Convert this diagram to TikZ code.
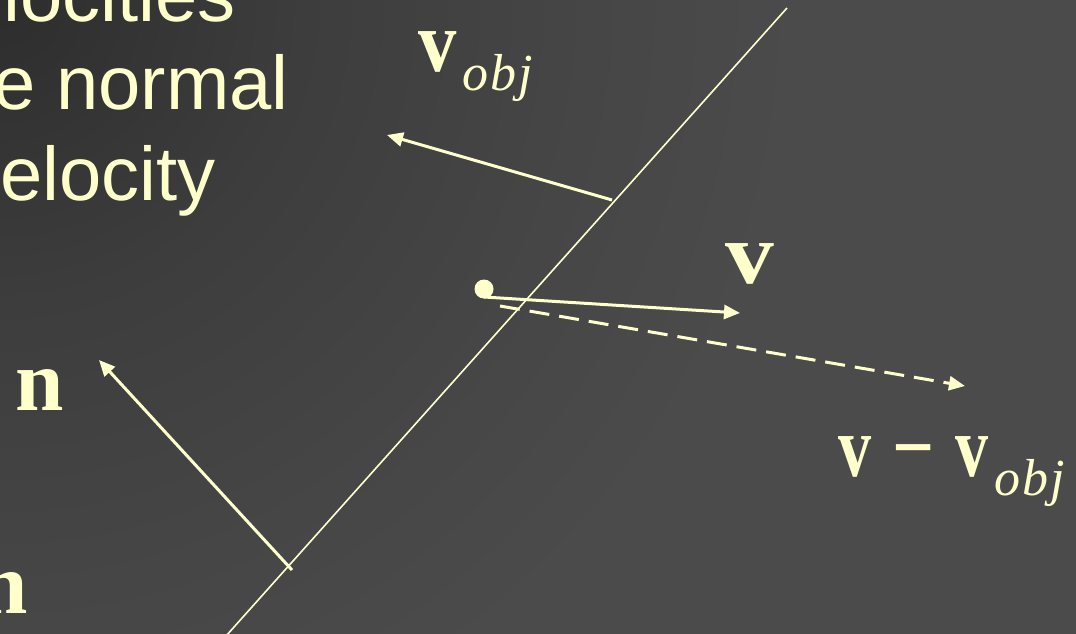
\documentclass[tikz,border=0pt]{standalone}
\usepackage{fontspec}
\setmainfont{Liberation Serif}
\setsansfont{Liberation Sans}
\usetikzlibrary{arrows.meta}
\definecolor{fg}{HTML}{FFFFCC}
\definecolor{bgA}{HTML}{2D2D2D}
\definecolor{bgB}{HTML}{3D3D3D}
\definecolor{bgC}{HTML}{464646}
\definecolor{bgD}{HTML}{4B4B4B}
\pgfdeclareradialshading{bgradial}{\pgfpoint{0bp}{0bp}}{color(0bp)=(bgA); color(9.5bp)=(bgB); color(18.5bp)=(bgC); color(25bp)=(bgD); color(50bp)=(bgD)}
\newcommand{\bodyfont}{\sffamily\fontsize{76}{89}\selectfont}
\newcommand{\vecfont}{\rmfamily\bfseries\fontsize{87}{100}\selectfont}
\newcommand{\subfont}{\rmfamily\mdseries\itshape\fontsize{52}{60}\selectfont}
\begin{document}
\begin{tikzpicture}[x=1pt,y=-1pt,
  bodytext/.style={text=fg, inner sep=0pt, font=\bodyfont, anchor=base east},
  lbl/.style={text=fg, inner sep=0pt, anchor=base west},
  planeline/.style={draw=fg, line width=1.6pt},
  vecarrow/.style={draw=fg, line width=3pt, -{Triangle[length=16pt,width=14pt]}},
  dasharrow/.style={draw=fg, line width=3pt, dash pattern=on 20pt off 10pt, -{Triangle[length=16pt,width=14pt]}},
  dotnode/.style={circle, fill=fg, inner sep=0pt, minimum size=19pt}]
\useasboundingbox (0,0) rectangle (1076,634);
\clip (0,0) rectangle (1076,634);
\fill[bgD] (0,0) rectangle (1076,634);
\shade[shading=bgradial] (0,0) circle (800);
% body text (cut at the left edge)
\node[bodytext] (t1) at (236,22) {velocities};
\node[bodytext] (t2) at (289,110) {the normal};
\node[bodytext] (t3) at (216,200) {velocity};
% plane line
\coordinate (Ltop) at (787,8);
\coordinate (Lbot) at (226,636);
\draw[planeline] (Ltop) -- (Lbot);
% object velocity
\coordinate (vobjS) at (612,200);
\coordinate (vobjT) at (387,135);
\draw[vecarrow] (vobjS) -- (vobjT);
% normal
\coordinate (nS) at (292,570);
\coordinate (nT) at (99,360);
\draw[vecarrow] (nS) -- (nT);
% point and velocities
\node[dotnode] (p) at (484,289) {};
\coordinate (vS) at (484,297);
\coordinate (vT) at (740,313);
\draw[vecarrow] (vS) -- (vT);
\coordinate (dS) at (500,306);
\coordinate (dT) at (965,386);
\draw[dasharrow] (dS) -- (dT);
% labels
\node[lbl] (lvobj) at (418,71) {\vecfont\scalebox{0.88}[1]{v}\hspace{6pt}\raisebox{-19pt}{\subfont o\hspace{2pt}b\hspace{2pt}j}};
\node[lbl] (lv) at (725,283) {\vecfont\scalebox{1.12}[1]{v}};
\node[lbl] (ldiff) at (838,476) {\vecfont\scalebox{0.76}[1]{v}\hspace{21pt}\raisebox{0pt}{\scalebox{0.85}[1]{\textminus}}\hspace{21pt}\scalebox{0.76}[1]{v}\hspace{6pt}\raisebox{-19pt}{\subfont o\hspace{2pt}b\hspace{2pt}j}};
\node[lbl] (ln) at (15,410) {\vecfont n};
\node[lbl] (ln2) at (-21,613) {\vecfont n};
\end{tikzpicture}
\end{document}
